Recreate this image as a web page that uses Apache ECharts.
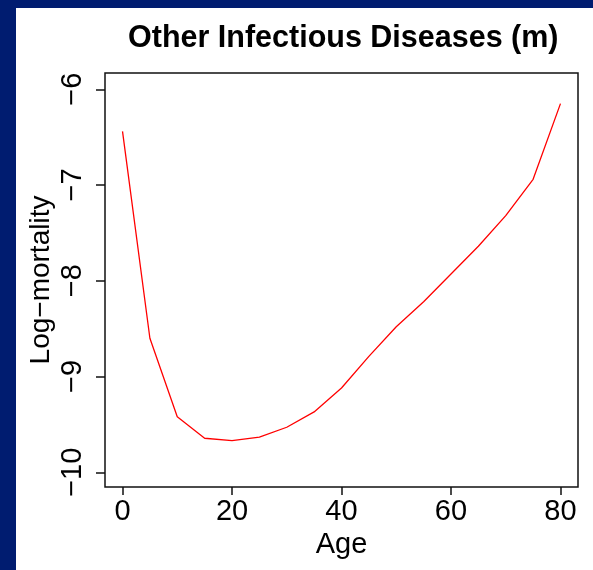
<!DOCTYPE html>
<html>
<head>
<meta charset="utf-8">
<script src="https://cdn.jsdelivr.net/npm/echarts@6/dist/echarts.min.js"></script>
<style>
html,body{margin:0;padding:0;background:#001c70;}
#chart{width:593px;height:570px;}
</style>
</head>
<body>
<div id="chart"></div>
<script>
// Data
var ages = [0, 5, 10, 15, 20, 25, 30, 35, 40, 45, 50, 55, 60, 65, 70, 75, 80];
var logMortality = [-6.44, -8.60, -9.42, -9.645, -9.67, -9.634, -9.53, -9.37, -9.12, -8.79, -8.48, -8.22, -7.93, -7.64, -7.32, -6.94, -6.15];
var xTicks = [0, 20, 40, 60, 80];
var yTicks = [-10, -9, -8, -7, -6];
var titleText = 'Other Infectious Diseases (m)';
var xName = 'Age';
var yName = 'Log\u2212mortality';

var chart = echarts.init(document.getElementById('chart'), null, {renderer: 'canvas'});
var font = 'Liberation Sans, Arial, sans-serif';
var seriesData = ages.map(function (a, i) { return [a, logMortality[i]]; });

chart.setOption({
  backgroundColor: '#001c70',
  animation: false,
  graphic: [{
    type: 'rect',
    left: 16, top: 8,
    shape: {width: 577, height: 562},
    style: {fill: '#ffffff'},
    z: -10
  }],
  title: {
    text: titleText,
    left: 123,
    top: 18,
    textStyle: {fontFamily: font, fontSize: 30.5, fontWeight: 'bold', color: '#000'}
  },
  grid: {
    left: 105, top: 73, right: 15, bottom: 83,
    show: true, borderColor: '#111', borderWidth: 1.5, backgroundColor: 'transparent'
  },
  xAxis: {
    type: 'value',
    min: -3.2, max: 83.2,
    name: xName,
    nameLocation: 'middle',
    nameGap: 43,
    nameTextStyle: {fontFamily: font, fontSize: 29, color: '#000'},
    axisLine: {show: false, onZero: false},
    splitLine: {show: false},
    axisTick: {show: true, inside: false, length: 8, customValues: xTicks, lineStyle: {color: '#111', width: 1.5}},
    axisLabel: {customValues: xTicks, margin: 10, fontFamily: font, fontSize: 29, color: '#000'}
  },
  yAxis: {
    type: 'value',
    min: -10.154, max: -5.83,
    name: yName,
    nameLocation: 'middle',
    nameGap: 50,
    nameRotate: 90,
    nameMoveOverlap: false,
    nameTextStyle: {fontFamily: font, fontSize: 28, color: '#000'},
    axisLine: {show: false, onZero: false},
    splitLine: {show: false},
    axisTick: {show: true, inside: false, length: 9, customValues: yTicks, lineStyle: {color: '#111', width: 1.5}},
    axisLabel: {
      customValues: yTicks, rotate: 90, margin: 18,
      fontFamily: font, fontSize: 29, color: '#000',
      formatter: function (v) { return String(v).replace('-', '\u2212'); }
    }
  },
  series: [{
    type: 'line',
    data: seriesData,
    showSymbol: false,
    symbol: 'none',
    lineStyle: {color: '#ff0000', width: 1.3},
    itemStyle: {color: '#ff0000'}
  }]
});
</script>
</body>
</html>
